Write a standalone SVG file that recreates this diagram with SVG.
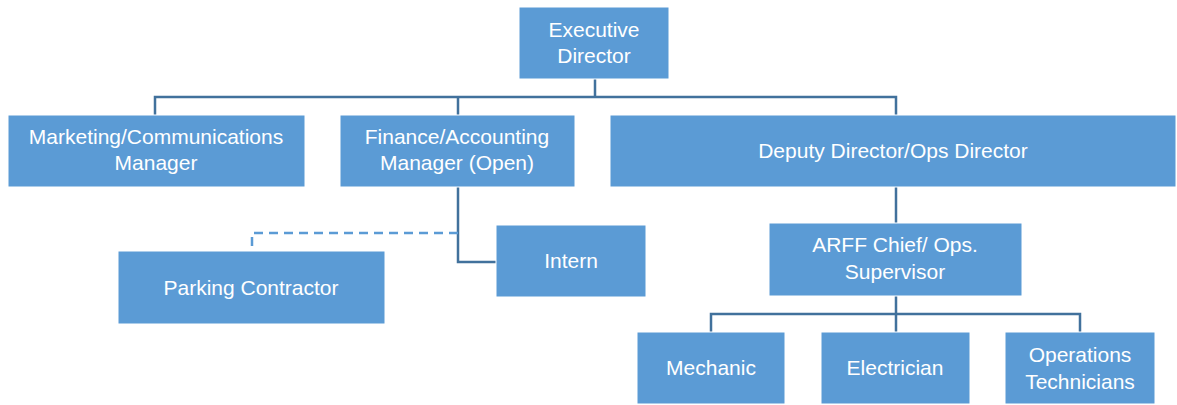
<svg xmlns="http://www.w3.org/2000/svg" width="1177" height="405" viewBox="0 0 1177 405">
<style>
.box{fill:#5B9BD5;stroke:#FFFFFF;stroke-width:1}
.t{font-family:"Liberation Sans",Arial,sans-serif;font-size:21px;fill:#FFFFFF;text-anchor:middle}
.c{fill:none;stroke:#41719C;stroke-width:2.5}
.d{fill:none;stroke:#5B9BD5;stroke-width:2.5;stroke-dasharray:9 6}
</style>
<rect width="1177" height="405" fill="#FFFFFF"/>
<g id="connectors">
<path class="c" d="M595,79 V97 M155,115 V97 H896 V115 M458,97 V115"/>
<path class="c" d="M458,187 V262 H496"/>
<path class="d" d="M458,233 H252 V248"/>
<path class="c" d="M896,187 V223"/>
<path class="c" d="M896,296 V314 M711,332 V314 H1080 V332 M896,314 V332"/>
</g>
<g id="executive-director"><rect class="box" x="519" y="7" width="150" height="72"/><text class="t" x="594" y="37">Executive</text><text class="t" x="594" y="63">Director</text></g>
<g id="marketing"><rect class="box" x="8" y="115" width="297" height="72"/><text class="t" x="156" y="144">Marketing/Communications</text><text class="t" x="156" y="170">Manager</text></g>
<g id="finance"><rect class="box" x="340" y="115" width="235" height="72"/><text class="t" x="457" y="144">Finance/Accounting</text><text class="t" x="457" y="170">Manager (Open)</text></g>
<g id="deputy-director"><rect class="box" x="610" y="115" width="566" height="72"/><text class="t" x="893" y="158">Deputy Director/Ops Director</text></g>
<g id="intern"><rect class="box" x="496" y="225" width="150" height="72"/><text class="t" x="571" y="268">Intern</text></g>
<g id="parking-contractor"><rect class="box" x="118" y="251" width="267" height="73"/><text class="t" x="251" y="295">Parking Contractor</text></g>
<g id="arff-chief"><rect class="box" x="769" y="223" width="253" height="73"/><text class="t" x="895" y="252">ARFF Chief/ Ops.</text><text class="t" x="895" y="279">Supervisor</text></g>
<g id="mechanic"><rect class="box" x="637" y="332" width="148" height="72"/><text class="t" x="711" y="375">Mechanic</text></g>
<g id="electrician"><rect class="box" x="821" y="332" width="149" height="72"/><text class="t" x="895" y="375">Electrician</text></g>
<g id="operations-technicians"><rect class="box" x="1005" y="332" width="150" height="72"/><text class="t" x="1080" y="362">Operations</text><text class="t" x="1080" y="389">Technicians</text></g>
</svg>
